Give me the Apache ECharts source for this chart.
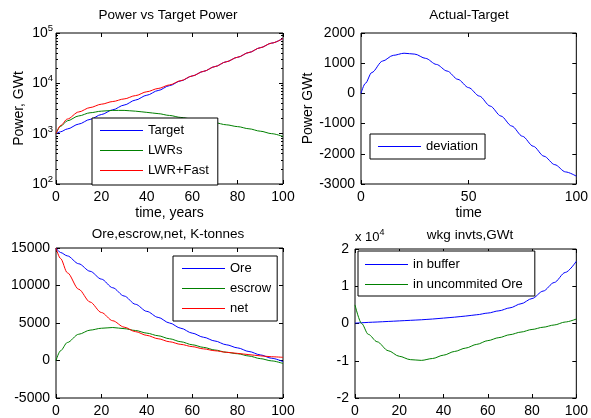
<!DOCTYPE html>
<html><head><meta charset="utf-8">
<script src="https://cdn.jsdelivr.net/npm/echarts@6/dist/echarts.min.js"></script>
<style>html,body{margin:0;padding:0;background:#fff}#c{width:591px;height:418px}</style>
</head><body><div id="c"></div>
<script>
// ---------- data ----------
const powerYears = [0,2,5,10,15,20,25,30,35,40,45,50,55,60,65,70,75,80,85,90,95,100];
const targetPower = [1000,1090,1240,1550,1920,2400,2980,3700,4650,5800,7200,9000,11200,14000,17300,21500,26800,33000,41000,51000,63000,78000];
const lwrPower = [1000,1400,1800,2250,2600,2800,2900,2900,2800,2650,2500,2300,2100,1950,1800,1650,1500,1380,1250,1120,1000,880];
const lwrFastPower = [1000,1450,1950,2700,3300,3850,4350,4900,5700,6800,7900,9300,11300,14000,17300,21500,26800,33000,41000,51000,63000,78000];

const devYears = [0,2,5,10,15,20,25,30,35,40,45,50,55,60,65,70,75,80,85,90,95,100];
const deviation = [0,330,690,1070,1260,1330,1300,1160,960,740,465,190,-90,-420,-750,-1080,-1420,-1750,-2080,-2360,-2600,-2740];

const oreYears = [0,2,5,10,15,20,25,30,35,40,45,50,55,60,65,70,75,80,85,90,95,100];
const ore = [15000,14400,13950,12900,11900,10850,9700,8600,7500,6550,5750,5000,4300,3650,3100,2600,2100,1680,1200,750,300,-150];
const escrow = [0,1300,2400,3500,4050,4300,4400,4250,4000,3650,3300,2900,2500,2100,1750,1400,1100,900,600,250,-50,-400];
const net = [15000,13600,11700,9500,7800,6400,5300,4450,3850,3350,2900,2500,2150,1850,1550,1300,1100,950,780,620,500,420];

const invYears = [0,3,6,10,15,20,25,30,35,40,45,50,55,60,65,70,75,80,85,90,95,100];
const inBuffer = [100,200,300,400,550,700,850,1000,1200,1450,1700,2000,2350,2800,3400,4200,5300,6700,8700,11000,13700,16700];
const inOre = [5000,0,-2900,-4900,-7300,-8800,-9700,-9900,-9400,-8500,-7500,-6600,-5600,-4600,-3800,-3000,-2300,-1600,-1000,-400,400,1200];

const logMajor = [100,1000,10000,100000];
const logMinor = [200,300,400,500,600,700,800,900,2000,3000,4000,5000,6000,7000,8000,9000,20000,30000,40000,50000,60000,70000,80000,90000];

// ---------- styling ----------
const FF = '"Liberation Sans", Arial, sans-serif';
const FS = 14;      // tick labels / axis names
const FT = 13.5;    // titles
const FL = 13;      // legend
const BLUE = '#0000ff', GREEN = '#008000', RED = '#ff0000';

function pairs(xs, ys){ return xs.map((x,i)=>[x, ys[i]]); }
function grid(l,t,w,h){ return {left:l,top:t,width:w,height:h,show:true,borderColor:'#000',borderWidth:1,backgroundColor:'#fff'}; }
const tick = {show:true,inside:true,length:4,lineStyle:{color:'#000',width:1}};
const plain = function(v){ return String(v); };
const lbl = {color:'#000',fontSize:FS,fontFamily:FF,margin:6,formatter:plain};

function xMain(gi,min,max,interval,name){
  return {type:'value',gridIndex:gi,position:'bottom',min,max,interval,
    axisLine:{show:false,onZero:false},axisTick:tick,axisLabel:lbl,splitLine:{show:false},
    name:name||'',nameLocation:'middle',nameGap:22,nameTextStyle:{color:'#000',fontSize:FS,fontFamily:FF}};
}
function xTop(gi,min,max,interval){
  return {type:'value',gridIndex:gi,position:'top',min,max,interval,
    axisLine:{show:false,onZero:false},axisTick:tick,axisLabel:{show:false},splitLine:{show:false}};
}
function yMain(gi,min,max,interval,name,gap,fmt){
  return {type:'value',gridIndex:gi,position:'left',min,max,interval,
    axisLine:{show:false,onZero:false},axisTick:tick,
    axisLabel:Object.assign({},lbl,fmt?{formatter:fmt}:{}),splitLine:{show:false},
    name:name||'',nameLocation:'middle',nameGap:gap||40,nameTextStyle:{color:'#000',fontSize:FS,fontFamily:FF}};
}
function yRight(gi,min,max,interval){
  return {type:'value',gridIndex:gi,position:'right',min,max,interval,
    axisLine:{show:false,onZero:false},axisTick:tick,axisLabel:{show:false},splitLine:{show:false}};
}
function legend(names,left,top,pad,gap){
  return {data:names,icon:'rect',itemWidth:43,itemHeight:1,itemGap:gap,itemStyle:{borderWidth:0},
    left,top,orient:'vertical',
    padding:pad,borderColor:'#000',borderWidth:1,backgroundColor:'#fff',selectedMode:false,
    textStyle:{color:'#000',fontSize:FL,fontFamily:FF,lineHeight:15}};
}
function line(name,color,xi,yi,data){
  return {type:'line',name,xAxisIndex:xi,yAxisIndex:yi,data,showSymbol:false,symbol:'none',
    smooth:0.3,smoothMonotone:'x',color:color,lineStyle:{color,width:1},itemStyle:{color},z:2};
}

const chart = echarts.init(document.getElementById('c'), null, {renderer:'canvas'});
const titleStyle = {color:'#000',fontSize:FT,fontWeight:'normal',fontFamily:FF};
chart.setOption({
  animation:false,
  backgroundColor:'#fff',
  title:[
    {text:'Power vs Target Power',left:168,top:8,textAlign:'center',textStyle:titleStyle,padding:0},
    {text:'Actual-Target',left:469,top:8,textAlign:'center',textStyle:titleStyle,padding:0},
    {text:'Ore,escrow,net, K-tonnes',left:168,top:227,textAlign:'center',textStyle:titleStyle,padding:0},
    {text:'wkg invts,GWt',left:470,top:228,textAlign:'center',textStyle:titleStyle,padding:0}
  ],
  grid:[grid(56,33,227,151),grid(361,33,221,151),grid(56,248,227,154),grid(355,249,227,153)],
  xAxis:[
    xMain(0,0,100,20,'time, years'), xTop(0,0,100,20),
    xMain(1,0,100,50,'time'), xTop(1,0,100,50),
    xMain(2,0,100,20), xTop(2,0,100,20),
    xMain(3,0,100,20), xTop(3,0,100,20)
  ],
  yAxis:[
    {type:'log',logBase:10,gridIndex:0,position:'left',min:100,max:100000,
      axisLine:{show:false,onZero:false},axisTick:Object.assign({},tick,{customValues:logMajor}),
      axisLabel:{color:'#000',fontSize:FS,fontFamily:FF,margin:3,customValues:logMajor,
        formatter:function(v){return '{b|10}{s|'+Math.round(Math.log10(v))+'}';},
        rich:{b:{fontSize:FS,fontFamily:FF,color:'#000'},s:{fontSize:9.5,fontFamily:FF,color:'#000',padding:[0,0,9,0]}}},
      splitLine:{show:false},
      name:'Power, GWt',nameLocation:'middle',nameGap:30,nameTextStyle:{color:'#000',fontSize:FS,fontFamily:FF}},
    {type:'log',logBase:10,gridIndex:0,position:'right',min:100,max:100000,
      axisLine:{show:false,onZero:false},axisTick:Object.assign({},tick,{customValues:logMajor}),axisLabel:{show:false},splitLine:{show:false}},
    {type:'log',logBase:10,gridIndex:0,position:'left',min:100,max:100000,
      axisLine:{show:false,onZero:false},axisTick:{show:true,inside:true,length:2,customValues:logMinor,lineStyle:{color:'#000'}},axisLabel:{show:false},splitLine:{show:false}},
    {type:'log',logBase:10,gridIndex:0,position:'right',min:100,max:100000,
      axisLine:{show:false,onZero:false},axisTick:{show:true,inside:true,length:2,customValues:logMinor,lineStyle:{color:'#000'}},axisLabel:{show:false},splitLine:{show:false}},
    yMain(1,-3000,2000,1000,'Power GWt',44), yRight(1,-3000,2000,1000),
    yMain(2,-5000,15000,5000), yRight(2,-5000,15000,5000),
    Object.assign(yMain(3,-20000,20000,10000,'',0,function(v){return String(Math.round(v/10000));}),{
      name:'{a|x 10}{s|4}',nameLocation:'end',nameGap:3,
      nameTextStyle:{align:'left',padding:[0,0,0,0],rich:{a:{fontSize:FL,fontFamily:FF,color:'#000'},s:{fontSize:9,fontFamily:FF,color:'#000',padding:[0,0,9,0]}}}}),
    yRight(3,-20000,20000,10000)
  ],
  legend:[
    legend(['Target','LWRs','LWR+Fast'],92,118,[5,9,7,8],5),
    legend(['deviation'],370,134,[5,7,5,8],5),
    legend(['Ore','escrow','net'],173,256,[5,6,5,9],5),
    legend(['in buffer','in uncommited Ore'],358,251,[6,12,4,7],5)
  ],
  series:[
    line('Target',BLUE,0,0,pairs(powerYears,targetPower)),
    line('LWRs',GREEN,0,0,pairs(powerYears,lwrPower)),
    line('LWR+Fast',RED,0,0,pairs(powerYears,lwrFastPower)),
    line('deviation',BLUE,2,4,pairs(devYears,deviation)),
    line('Ore',BLUE,4,6,pairs(oreYears,ore)),
    line('escrow',GREEN,4,6,pairs(oreYears,escrow)),
    line('net',RED,4,6,pairs(oreYears,net)),
    line('in buffer',BLUE,6,8,pairs(invYears,inBuffer)),
    line('in uncommited Ore',GREEN,6,8,pairs(invYears,inOre))
  ]
});
</script></body></html>
